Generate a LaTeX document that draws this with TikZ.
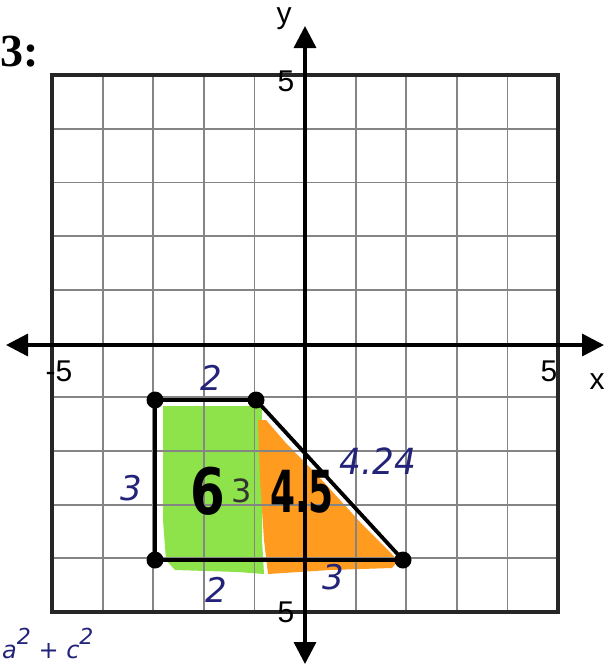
\documentclass[tikz,border=0pt]{standalone}
\usepackage{fontspec}
\setmainfont{Liberation Sans}
\newfontfamily\serifbold{Liberation Serif}
\newfontfamily\hand{DejaVu Sans}
\usetikzlibrary{arrows.meta}
\definecolor{ink}{HTML}{23237A}
\definecolor{gridgray}{HTML}{858585}
\definecolor{hlgreen}{HTML}{8EE24A}
\definecolor{hlorange}{HTML}{FF9B1E}
\tikzset{
  gridline/.style={draw=gridgray,line width=1.8pt},
  border/.style={draw=black!85,line width=3.4pt},
  axis/.style={line width=3.4pt,-{Triangle[length=22pt,width=22pt]}},
  axlabel/.style={font=\fontsize{30}{30}\selectfont,inner sep=0pt},
  handnum/.style={text=ink,font=\hand\itshape\fontsize{34}{34}\selectfont,inner sep=0pt},
  bignum/.style={text=black,font=\hand\bfseries\fontsize{64}{64}\selectfont,inner sep=0pt},
  dot/.style={circle,fill=black,minimum size=17pt,inner sep=0pt},
  shapeedge/.style={line width=3.8pt,line join=round}
}
\begin{document}
\begin{tikzpicture}[x=1pt,y=-1pt]
\useasboundingbox (0,0) rectangle (608,667);
\fill[white] (0,0) rectangle (608,667);
% highlighter fills
\fill[hlgreen] (163,406) -- (262,406) -- (262,540) -- (264,574) -- (238,572) -- (175,570) -- (166,560) -- (163,520) -- cycle;
\fill[hlorange] (258,420) -- (266,420) -- (285,442) -- (320,478) -- (360,522) -- (390,552) -- (398,561) -- (392,568) -- (330,570) -- (268,574) -- (264,540) -- (260,480) -- cycle;
% grid
\foreach \i in {1,...,9} {
  \draw[gridline] ({52+50.6*\i},75) -- ({52+50.6*\i},612);
  \draw[gridline] (52,{75+53.7*\i}) -- (558,{75+53.7*\i});
}
\draw[border] (52,75) rectangle (558,612);
% axes
\coordinate (xl) at (6,345);
\coordinate (xr) at (604,345);
\coordinate (yt) at (305,26);
\coordinate (yb) at (305,664);
\coordinate (o) at (305,345);
\draw[axis] (o) -- (xl);
\draw[axis] (o) -- (xr);
\draw[axis] (o) -- (yt);
\draw[axis] (o) -- (yb);
% axis labels
\node[axlabel] (ylab) at (284,19) {y};
\node[axlabel] (ytop) at (286,81) {5};
\node[axlabel] (xneg) at (59,371) {-5};
\node[axlabel] (xpos) at (549,371) {5};
\node[axlabel] (xlab) at (597,382) {x};
\node[axlabel] (ybot) at (286,612) {5};
\node[font=\serifbold\bfseries\fontsize{46}{46}\selectfont,inner sep=0pt,anchor=west] (num) at (0,52) {3:};
% shape
\coordinate (A) at (155,400);
\coordinate (B) at (256,400);
\coordinate (C) at (155,560);
\coordinate (D) at (403,560);
\draw[shapeedge] (A) -- (B) -- (D) -- (C) -- cycle;
\foreach \p in {A,B,C,D} \node[dot] at (\p) {};
% handwritten labels
\node[handnum] (t2) at (211,378) {2};
\node[handnum] (l3) at (131,488) {3};
\node[handnum] (b2) at (216,590) {2};
\node[handnum] (b3) at (333,577) {3};
\node[handnum,font=\hand\itshape\fontsize{36}{36}\selectfont,xscale=0.95] (hyp) at (378,461) {4.24};
\node[bignum,xscale=0.78] (six) at (208,491) {6};
\node[handnum,text=black!80,font=\hand\fontsize{32}{32}\selectfont] (mid3) at (242,491) {3};
\node[bignum,font=\hand\bfseries\fontsize{58}{58}\selectfont,xscale=0.62] (area) at (302,492) {4.5};
\node[handnum,anchor=base west,font=\hand\itshape\fontsize{24}{24}\selectfont] (eq) at (2,658) {a\raisebox{0.55em}{\fontsize{22}{22}\selectfont 2} + c\raisebox{0.55em}{\fontsize{22}{22}\selectfont 2}};
\end{tikzpicture}
\end{document}
